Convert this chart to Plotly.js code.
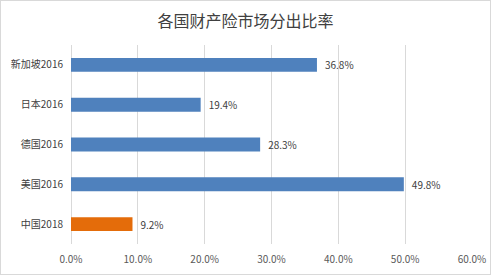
<!DOCTYPE html>
<html><head><meta charset="utf-8">
<script src="https://cdn.plot.ly/plotly-3.0.1.min.js"></script>
<style>html,body{margin:0;padding:0;background:#fff}#chart{width:491px;height:275px;box-sizing:border-box;border:1px solid #d9d9d9}</style>
</head><body><div id="chart"></div>
<script>
const categories = ["中国2018","美国2016","德国2016","日本2016","新加坡2016"];
const values = [9.2, 49.8, 28.3, 19.4, 36.8];
const barColors = ["#E46C0A","#4F81BD","#4F81BD","#4F81BD","#4F81BD"];
const tickVals = [0,10,20,30,40,50,60];
const tickText = tickVals.map(v => v.toFixed(1) + "%");
const font = "Noto Sans CJK SC, sans-serif";
Plotly.newPlot("chart", [{
  type: "bar", orientation: "h",
  y: categories, x: values,
  marker: {color: barColors},
  width: 0.35,
  text: values.map(v => "\u2002" + v.toFixed(1) + "%"),
  textposition: "outside",
  constraintext: "none",
  textfont: {family: font, size: 10, color: "#404040"},
  cliponaxis: false,
  hoverinfo: "none"
}], {
  width: 489, height: 273,
  margin: {l: 70, r: 18, t: 44, b: 30},
  paper_bgcolor: "#fff", plot_bgcolor: "#fff",
  title: {text: "各国财产险市场分出比率", font: {family: font, size: 16, color: "#404040"}, x: 0.5, xanchor: "center", y: 0.925, yanchor: "middle"},
  xaxis: {range: [0, 60], tickvals: tickVals, ticktext: tickText, showgrid: true, gridcolor: "#d9d9d9", zeroline: true, zerolinecolor: "#d9d9d9", showline: false, ticklabelstandoff: 8, tickfont: {family: font, size: 10, color: "#595959"}, fixedrange: true},
  yaxis: {tickfont: {family: font, size: 10, color: "#404040"}, showline: false, ticks: "", ticklen: 0, ticklabelstandoff: 7, fixedrange: true},
  bargap: 0.65,
  showlegend: false
}, {displayModeBar: false, staticPlot: true});
</script></body></html>
